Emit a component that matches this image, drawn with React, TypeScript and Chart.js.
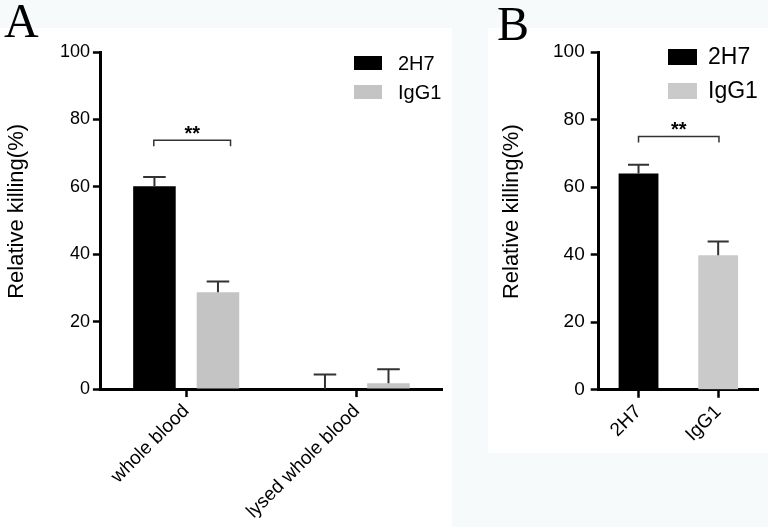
import React, { useEffect, useRef } from 'react';
import { Chart, registerables } from 'chart.js';

Chart.register(...registerables);

// ---------- data ----------
const seriesNames = ['2H7', 'IgG1'];
const yTickValues = [0, 20, 40, 60, 80, 100];

// Panel A
const aCategories = ['whole blood', 'lysed whole blood'];
const a2H7 = [60.2, 0];
const a2H7Err = [2.7, 4.3];
const aIgG1 = [28.7, 1.7];
const aIgG1Err = [3.2, 4.2];
const aBracketRange = [-0.19, 0.26];
const aBracketValue = 73.8;
const aBracketLabel = '**';

// Panel B
const bCategories = ['2H7', 'IgG1'];
const b2H7 = [64.0, null];
const b2H7Err = [2.6, null];
const bIgG1 = [null, 39.8];
const bIgG1Err = [null, 4.1];
const bBracketRange = [0, 1.01];
const bBracketValue = 75.0;
const bBracketLabel = '**';

const yTitle = '   Relative killing(%)';

// ---------- styles ----------
const FONT = '"Liberation Sans", Arial, Helvetica, sans-serif';
const BLACK = '#000000';
const GRAY_A = '#c4c4c4';
const GRAY_B = '#cacaca';

const annotPlugin = {
  id: 'annot',
  afterDatasetsDraw(chart: any, _args: any, o: any) {
    const ctx = chart.ctx;
    const xs = chart.scales.x;
    const ys = chart.scales.y;
    ctx.save();
    // error bars
    chart.data.datasets.forEach((ds: any, i: number) => {
      const meta = chart.getDatasetMeta(i);
      meta.data.forEach((el: any, j: number) => {
        const v = ds.data[j];
        const e = ds.errors ? ds.errors[j] : null;
        if (v == null || e == null) return;
        const yTop = ys.getPixelForValue(v + e);
        const cx = el.x;
        const half = (el.width * o.capRatio) / 2;
        ctx.strokeStyle = o.errColor;
        ctx.lineWidth = o.errWidth;
        ctx.beginPath();
        ctx.moveTo(cx, el.y);
        ctx.lineTo(cx, yTop);
        ctx.moveTo(cx - half, yTop);
        ctx.lineTo(cx + half, yTop);
        ctx.stroke();
      });
    });
    // significance bracket
    if (o.bracket) {
      const b = o.bracket;
      const x1 = xs.getPixelForValue(b.range[0]);
      const x2 = xs.getPixelForValue(b.range[1]);
      const y = ys.getPixelForValue(b.value);
      ctx.strokeStyle = o.bracketColor;
      ctx.lineWidth = o.bracketWidth;
      ctx.beginPath();
      ctx.moveTo(x1, y + o.bracketLeg);
      ctx.lineTo(x1, y);
      ctx.lineTo(x2, y);
      ctx.lineTo(x2, y + o.bracketLeg);
      ctx.stroke();
      ctx.fillStyle = '#000';
      ctx.font = `bold ${o.starSize}px ${FONT}`;
      ctx.textAlign = 'center';
      ctx.textBaseline = 'alphabetic';
      ctx.fillText(b.label, (x1 + x2) / 2, y + o.starDy);
    }
    // legend
    if (o.legend) {
      const L = o.legend;
      chart.data.datasets.forEach((ds: any, i: number) => {
        const color = Array.isArray(ds.backgroundColor) ? ds.backgroundColor[0] : ds.backgroundColor;
        const top = L.y + i * L.pitch;
        ctx.fillStyle = color;
        ctx.fillRect(L.x, top, L.w, L.h);
        ctx.fillStyle = '#000';
        ctx.font = `${L.size}px ${FONT}`;
        ctx.textAlign = 'left';
        ctx.textBaseline = 'middle';
        ctx.fillText(ds.label, L.x + L.w + L.gap, top + L.h / 2 + 1);
      });
    }
    ctx.restore();
  },
};

function buildConfig(p: any): any {
  return {
    type: 'bar',
    data: {
      labels: p.categories,
      datasets: p.datasets,
    },
    plugins: [annotPlugin],
    options: {
      responsive: false,
      animation: false,
      devicePixelRatio: 1,
      layout: { padding: p.padding },
      datasets: {
        bar: {
          categoryPercentage: p.catPct,
          barPercentage: p.barPct,
          borderWidth: 0,
          grouped: p.grouped,
        },
      },
      plugins: {
        legend: { display: false },
        tooltip: { enabled: false },
        annot: {
          capRatio: 0.53,
          errColor: '#333333',
          errWidth: 2,
          bracket: p.bracket,
          bracketColor: '#333333',
          bracketWidth: 1.5,
          bracketLeg: 6,
          starSize: p.starSize,
          starDy: 0,
          legend: p.legend,
        },
      },
      scales: {
        x: {
          offset: true,
          grid: {
            offset: false,
            drawOnChartArea: false,
            drawTicks: true,
            tickLength: 8,
            tickWidth: 2.5,
            tickColor: '#000',
          },
          border: { display: true, color: '#000', width: 3 },
          ticks: {
            color: '#000',
            font: { size: p.xTickSize, family: FONT },
            minRotation: 45,
            maxRotation: 45,
            autoSkip: false,
            padding: 3,
          },
        },
        y: {
          min: 0,
          max: 100,
          afterBuildTicks: (scale: any) => {
            scale.ticks = yTickValues.map((v) => ({ value: v }));
          },
          grid: {
            drawOnChartArea: false,
            drawTicks: true,
            tickLength: 8,
            tickWidth: 2.5,
            tickColor: '#000',
          },
          border: { display: true, color: '#000', width: 3 },
          ticks: {
            color: '#000',
            font: { size: p.tickSize, family: FONT },
            padding: p.yTickPad,
          },
          title: {
            display: true,
            text: yTitle,
            color: '#000',
            font: { size: p.titleSize, family: FONT },
            padding: p.titlePad,
          },
        },
      },
    },
  };
}

const configA = () =>
  buildConfig({
    categories: aCategories,
    datasets: [
      { label: seriesNames[0], data: a2H7, errors: a2H7Err, backgroundColor: BLACK },
      { label: seriesNames[1], data: aIgG1, errors: aIgG1Err, backgroundColor: GRAY_A },
    ],
    padding: { left: 0, top: 52, right: 18, bottom: 1 },
    catPct: 0.745,
    barPct: 0.67,
    grouped: true,
    tickSize: 18,
    xTickSize: 19,
    titleSize: 22,
    yTickPad: 3,
    titlePad: { top: 4, bottom: 26.5 },
    starSize: 20,
    bracket: { range: aBracketRange, value: aBracketValue, label: aBracketLabel },
    legend: { x: 354, y: 56, w: 28, h: 14, pitch: 29, gap: 16, size: 20 },
  });

const configB = () =>
  buildConfig({
    categories: bCategories,
    datasets: [
      { label: seriesNames[0], data: b2H7, errors: b2H7Err, backgroundColor: BLACK },
      { label: seriesNames[1], data: bIgG1, errors: bIgG1Err, backgroundColor: GRAY_B },
    ],
    padding: { left: 34, top: 52, right: 10, bottom: 78 },
    catPct: 0.5,
    barPct: 1.0,
    grouped: false,
    tickSize: 19,
    xTickSize: 19,
    titleSize: 22,
    yTickPad: 6,
    titlePad: { top: 4.4, bottom: 22.2 },
    starSize: 20,
    bracket: { range: bBracketRange, value: bBracketValue, label: bBracketLabel },
    legend: { x: 208, y: 49, w: 29, h: 16, pitch: 34, gap: 11, size: 23 },
  });

function ChartCanvas(props: { left: number; width: number; height: number; make: () => any }) {
  const ref = useRef<HTMLCanvasElement>(null);
  useEffect(() => {
    const chart = new Chart(ref.current as HTMLCanvasElement, props.make());
    return () => chart.destroy();
  }, []);
  return (
    <canvas
      ref={ref}
      width={props.width}
      height={props.height}
      style={{ position: 'absolute', left: props.left, top: 0, width: props.width, height: props.height }}
    />
  );
}

const letterStyle: any = {
  position: 'absolute',
  fontFamily: '"Liberation Serif", "Times New Roman", serif',
  fontSize: 48,
  lineHeight: '48px',
  color: '#000',
};

export default function App() {
  return (
    <div
      style={{
        position: 'fixed',
        left: 0,
        top: 0,
        width: 768,
        height: 527,
        background: '#f7fafb',
        overflow: 'hidden',
      }}
    >
      <div style={{ position: 'absolute', left: 0, top: 28, width: 452, height: 499, background: '#ffffff' }} />
      <div style={{ position: 'absolute', left: 488, top: 28, width: 280, height: 425, background: '#ffffff' }} />
      <ChartCanvas left={0} width={460} height={527} make={configA} />
      <ChartCanvas left={460} width={308} height={527} make={configB} />
      <div style={{ ...letterStyle, left: 4, top: -3 }}>A</div>
      <div style={{ ...letterStyle, left: 497, top: 0 }}>B</div>
    </div>
  );
}
